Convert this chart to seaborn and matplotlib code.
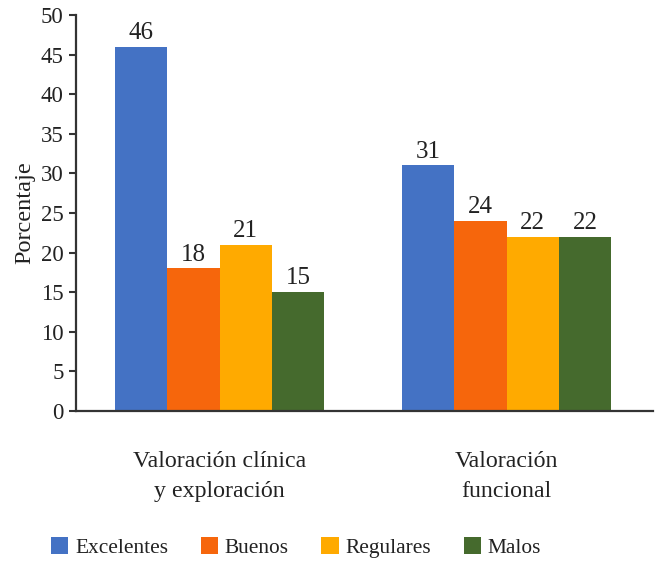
import matplotlib
matplotlib.use("Agg")
import matplotlib.pyplot as plt
import seaborn as sns
import pandas as pd

categories = ["Valoración clínica\ny exploración", "Valoración\nfuncional"]
groups = ["Excelentes", "Buenos", "Regulares", "Malos"]
excelentes = [46, 31]
buenos = [18, 24]
regulares = [21, 22]
malos = [15, 22]
colors = ["#4472C4", "#F6660C", "#FFAA00", "#456A2D"]

rows = []
for name, vals in zip(groups, [excelentes, buenos, regulares, malos]):
    for cat, v in zip(categories, vals):
        rows.append({"categoria": cat, "grupo": name, "valor": v})
df = pd.DataFrame(rows)

sns.set_theme(style="ticks")
plt.rcParams["font.family"] = ["Liberation Serif", "DejaVu Serif"]
text_color = "#222222"

fig = plt.figure(figsize=(6.55, 5.61), dpi=100)
ax = fig.add_axes([0.116, 0.2674, 0.881, 0.7059])

sns.barplot(data=df, x="categoria", y="valor", hue="grupo", order=categories,
            hue_order=groups, palette=colors, width=0.728, gap=0,
            saturation=1, linewidth=0, ax=ax, legend=True)

for cont in ax.containers:
    ax.bar_label(cont, fmt="%d", padding=2, fontsize=18, color=text_color)

ax.set_ylim(0, 50)
ax.set_xlim(-0.5, 1.51)
ax.set_yticks(range(0, 51, 5))
ax.set_xlabel("")
ax.set_ylabel("Porcentaje", fontsize=17.5, color=text_color, labelpad=4)
ax.tick_params(axis="y", labelsize=16.5, colors="#333333", labelcolor=text_color,
               length=5, width=1.5, pad=4, direction="out")
ax.tick_params(axis="x", labelsize=17.2, labelcolor=text_color, length=0, pad=29)
for lab in ax.get_xticklabels():
    lab.set_linespacing(1.57)

for side in ["top", "right"]:
    ax.spines[side].set_visible(False)
for side in ["left", "bottom"]:
    ax.spines[side].set_color("#333333")
    ax.spines[side].set_linewidth(1.6)

handles, labels = ax.get_legend_handles_labels()
ax.legend_.remove()
fig.legend(handles, labels, loc="center", bbox_to_anchor=(0.452, 0.024),
           ncol=4, frameon=False, fontsize=15.4, handlelength=0.8,
           handleheight=0.8, handletextpad=0.32, columnspacing=1.53,
           labelcolor=text_color)

fig.savefig("out.png", dpi=100)
